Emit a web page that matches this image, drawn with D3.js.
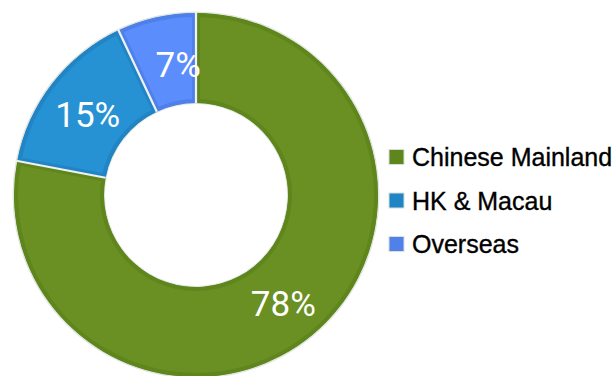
<!DOCTYPE html>
<html>
<head>
<meta charset="utf-8">
<script src="https://cdn.jsdelivr.net/npm/d3@7"></script>
<style>
  html, body { margin: 0; padding: 0; background: #fff; }
  svg { display: block; }
</style>
</head>
<body>
<svg id="chart" width="616" height="376"></svg>
<script>
// Share of customers by region
const categories = ["Chinese Mainland", "HK & Macau", "Overseas"];
const shares = [78, 15, 7];
const labels = ["78%", "15%", "7%"];
const fills = ["#6b8f22", "#2592d4", "#5b8dfc"];
const edges = ["#5f861c", "#2184c4", "#5080ea"];

const W = 616, H = 376;
const cx = 196, cy = 195;
const outerR = 182, innerR = 92;

const svg = d3.select("#chart");
const data = categories.map((c, i) => ({ name: c, value: shares[i], label: labels[i], i }));

const pie = d3.pie().value(d => d.value).sort(null);
const arcs = pie(data);
const arc = d3.arc().innerRadius(innerR).outerRadius(outerR);

const defs = svg.append("defs");
defs.append("filter").attr("id", "soft")
  .append("feGaussianBlur").attr("stdDeviation", 0.5);

const g = svg.append("g").attr("transform", `translate(${cx},${cy})`);

// faint halo round the ring
g.append("path")
  .attr("d", d3.arc().innerRadius(innerR - 1).outerRadius(outerR + 1.5).startAngle(0).endAngle(2 * Math.PI)())
  .attr("fill", "#dfe6df")
  .attr("filter", "url(#soft)");

// slice clip paths so the darker rim sits inside each slice
arcs.forEach((a, k) => {
  defs.append("clipPath").attr("id", "clip" + k)
    .append("path").attr("d", arc(a));
});

const slices = g.append("g").attr("filter", "url(#soft)");
slices.selectAll("path.slice")
  .data(arcs)
  .join("path")
  .attr("class", "slice")
  .attr("d", arc)
  .attr("fill", d => fills[d.data.i])
  .attr("stroke", d => edges[d.data.i])
  .attr("stroke-width", 8)
  .attr("clip-path", (d, k) => `url(#clip${k})`);

// white separators between slices
slices.selectAll("line.sep")
  .data(arcs)
  .join("line")
  .attr("class", "sep")
  .attr("x1", d => innerR * Math.sin(d.startAngle))
  .attr("y1", d => -innerR * Math.cos(d.startAngle))
  .attr("x2", d => (outerR + 1) * Math.sin(d.startAngle))
  .attr("y2", d => -(outerR + 1) * Math.cos(d.startAngle))
  .attr("stroke", "#eef2f2")
  .attr("stroke-width", 2.2);

// value labels at slice centroids; the narrow slice label leans right to stay inside
const labelArc = d3.arc().innerRadius(innerR).outerRadius(outerR);
g.selectAll("text.val")
  .data(arcs)
  .join("text")
  .attr("class", "val")
  .attr("transform", d => {
    const [x, y] = labelArc.centroid(d);
    const nudge = (d.endAngle - d.startAngle) < 0.5 ? 12 : 0;
    return `translate(${x + nudge},${y + 4})`;
  })
  .attr("text-anchor", "middle")
  .attr("dominant-baseline", "central")
  .attr("font-family", "Roboto, sans-serif")
  .attr("font-size", 35)
  .attr("fill", "#fff")
  .text(d => d.data.label);

// legend
const rowY = d3.scalePoint().domain(categories).range([157, 244]);
const legend = svg.append("g");
const rows = legend.selectAll("g.row")
  .data(data)
  .join("g")
  .attr("class", "row")
  .attr("transform", d => `translate(389,${rowY(d.name)})`);

rows.append("rect")
  .attr("x", 0).attr("y", -7.5)
  .attr("width", 15).attr("height", 15)
  .attr("fill", d => edges[d.i])
  .attr("stroke", "#d8dfd8")
  .attr("stroke-width", 1);

rows.append("text")
  .attr("x", 23)
  .attr("y", 9)
  .attr("font-family", "'Liberation Sans', Arial, sans-serif")
  .attr("font-size", 25)
  .attr("fill", "#000")
  .attr("stroke", "#000")
  .attr("stroke-width", 0.35)
  .text(d => d.name);
</script>
</body>
</html>
